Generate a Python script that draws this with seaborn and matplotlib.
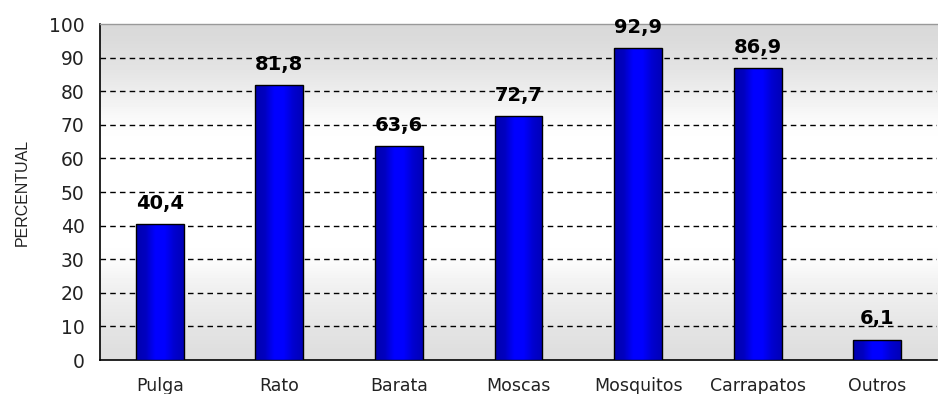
import numpy as np
import pandas as pd
import matplotlib
matplotlib.use("Agg")
import matplotlib.pyplot as plt
import seaborn as sns
from matplotlib.colors import LinearSegmentedColormap

categorias = ["Pulga", "Rato", "Barata", "Moscas", "Mosquitos", "Carrapatos", "Outros"]
percentuais = [40.4, 81.8, 63.6, 72.7, 92.9, 86.9, 6.1]
rotulos = ["40,4", "81,8", "63,6", "72,7", "92,9", "86,9", "6,1"]
ticks_y = [0, 10, 20, 30, 40, 50, 60, 70, 80, 90, 100]

sns.set_style("white")
plt.rcParams["font.family"] = ["DejaVu Sans"]

df = pd.DataFrame({"categoria": categorias, "percentual": percentuais})

fig = plt.figure(figsize=(9.38, 3.94), dpi=100)
ax = fig.add_axes([100 / 938, 34 / 394, 837 / 938, 336 / 394])

# vertical background: grey at top and bottom, white in the middle
fundo = np.array([0.85, 0.87, 0.89, 0.92, 0.95, 0.985, 1, 1, 1, 1, 1, 1, 1, 0.985, 0.95, 0.93, 0.91, 0.89, 0.87])
ax.imshow(np.tile(fundo[:, None], (1, 2)), cmap="gray", vmin=0, vmax=1, aspect="auto",
          extent=(0, 1, 0, 1), transform=ax.transAxes, zorder=0, interpolation="bicubic")

sns.barplot(data=df, x="categoria", y="percentual", color="#0000e6", width=0.4,
            edgecolor="black", linewidth=1.0, ax=ax, zorder=3, saturation=1)

# horizontal shading inside each bar
cmap_barra = LinearSegmentedColormap.from_list(
    "barra", ["#0000b0", "#0000c0", "#0000ff", "#0000ff", "#0000d0", "#0000b8"])
grad = np.linspace(0, 1, 64)[None, :]
for p in ax.patches:
    x0, y0 = p.get_x(), p.get_y()
    w, h = p.get_width(), p.get_height()
    im = ax.imshow(grad, cmap=cmap_barra, aspect="auto", extent=(x0, x0 + w, y0, y0 + h),
                   zorder=3.5, interpolation="bilinear")
    im.set_clip_path(p)
    p.set_facecolor("none")
    p.set_zorder(4)

for i, (v, r) in enumerate(zip(percentuais, rotulos)):
    ax.annotate(r, (i, v), xytext=(0, 8), textcoords="offset points", ha="center",
                va="bottom", fontsize=14, fontweight="bold", color="black", zorder=5)

ax.set_xlim(-0.5, len(categorias) - 0.5)
ax.set_ylim(0, 100)
ax.set_yticks(ticks_y)
ax.set_yticklabels([str(t) for t in ticks_y], fontsize=13.5, color="#222222")
ax.set_xticks(range(len(categorias)))
ax.set_xticklabels(categorias, fontsize=12.5, color="#222222")
ax.set_xticks(np.arange(-0.5, len(categorias)), minor=True)
ax.tick_params(axis="x", which="major", length=0, pad=12)
ax.tick_params(axis="x", which="minor", length=5, width=1, color="black", direction="out")
ax.tick_params(axis="y", length=5, width=1, color="black", direction="out", pad=6)
ax.set_xlabel("")
ax.set_ylabel("PERCENTUAL", fontsize=11.5, color="#222222", labelpad=14,
              family=["Liberation Sans", "DejaVu Sans"])

for t in ticks_y[1:-1]:
    ax.axhline(t, color="black", linestyle=(0, (4, 3)), linewidth=1, zorder=2)

for s in ["left", "bottom"]:
    ax.spines[s].set_visible(True)
    ax.spines[s].set_color("black")
    ax.spines[s].set_linewidth(1.2)
ax.spines["top"].set_visible(True)
ax.spines["top"].set_color("#999999")
ax.spines["top"].set_linewidth(1)
ax.spines["right"].set_visible(False)

fig.savefig("out.png", dpi=100)
